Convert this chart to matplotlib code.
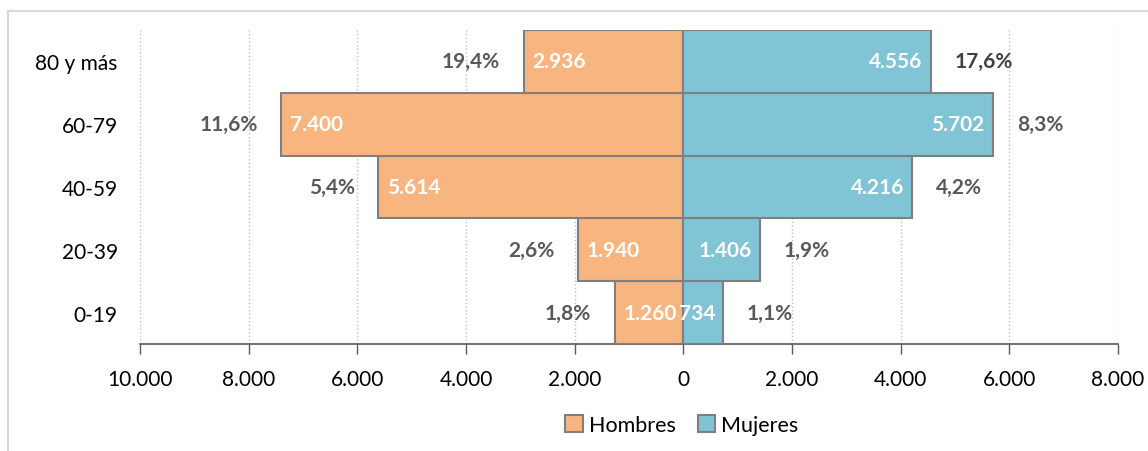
import matplotlib.pyplot as plt
import matplotlib.patches as mpatches
import numpy as np

plt.rcParams['font.family'] = ['Lato', 'DejaVu Sans']

grupos = ['0-19', '20-39', '40-59', '60-79', '80 y más']
hombres = [1260, 1940, 5614, 7400, 2936]
mujeres = [734, 1406, 4216, 5702, 4556]
pct_hombres = ['1,8%', '2,6%', '5,4%', '11,6%', '19,4%']
pct_mujeres = ['1,1%', '1,9%', '4,2%', '8,3%', '17,6%']
ticks = [-10000, -8000, -6000, -4000, -2000, 0, 2000, 4000, 6000, 8000]

c_h = '#F9B57F'
c_m = '#80C4D6'
borde = '#7F7F7F'
gris = '#595959'
fs = 15

fig = plt.figure(figsize=(11.48, 4.52), dpi=100)
# marco exterior gris claro
fig.patches.append(mpatches.Rectangle((8 / 1148, -0.1), 1.2, 1 - 12 / 452 + 0.1,
                                      transform=fig.transFigure, fill=False,
                                      edgecolor='#D9D9D9', linewidth=1.5))
ax = fig.add_axes([140 / 1148, 107 / 452, 978 / 1148, 314 / 452])

y = np.arange(len(grupos))
h_neg = [-v for v in hombres]
ax.barh(y, h_neg, height=1.0, color=c_h, edgecolor=borde, linewidth=1.5, label='Hombres', zorder=3)
ax.barh(y, mujeres, height=1.0, color=c_m, edgecolor=borde, linewidth=1.5, label='Mujeres', zorder=3)

for i in range(len(grupos)):
    lbl_h = '{:,}'.format(hombres[i]).replace(',', '.')
    lbl_m = '{:,}'.format(mujeres[i]).replace(',', '.')
    ax.annotate(lbl_h, (h_neg[i], y[i]), xytext=(6, 0), textcoords='offset points',
                ha='left', va='center', color='white', fontweight='bold', fontsize=fs, zorder=4)
    ax.annotate(lbl_m, (mujeres[i], y[i]), xytext=(-6, 0), textcoords='offset points',
                ha='right', va='center', color='white', fontweight='bold', fontsize=fs, zorder=4)
    ax.annotate(pct_hombres[i], (h_neg[i], y[i]), xytext=(-17, 0), textcoords='offset points',
                ha='right', va='center', color=gris, fontweight='bold', fontsize=fs, zorder=4)
    col = '#404040' if i == len(grupos) - 1 else gris
    ax.annotate(pct_mujeres[i], (mujeres[i], y[i]), xytext=(17, 0), textcoords='offset points',
                ha='left', va='center', color=col, fontweight='bold', fontsize=fs, zorder=4)

ax.set_xlim(-10000, 8000)
ax.set_ylim(-0.5, len(grupos) - 0.5)
ax.set_xticks(ticks)
ax.set_xticklabels(['{:,}'.format(abs(t)).replace(',', '.') for t in ticks], fontsize=fs)
ax.set_yticks(y)
ax.set_yticklabels(grupos, fontsize=fs)
ax.tick_params(axis='y', length=0, pad=16)
ax.tick_params(axis='x', length=7, width=1, color=gris, pad=11)
ax.grid(axis='x', linestyle=':', color='#BFBFBF', linewidth=1, zorder=0)
for s in ['top', 'right', 'left']:
    ax.spines[s].set_visible(False)
ax.spines['bottom'].set_color(gris)
ax.spines['bottom'].set_linewidth(1.2)

fig.legend(loc='center', bbox_to_anchor=(682 / 1148, 26 / 452), ncol=2, frameon=False, fontsize=15.5,
           handlelength=0.8, handleheight=0.8, handletextpad=0.3, columnspacing=1.0)

fig.savefig('out.png', dpi=100)
